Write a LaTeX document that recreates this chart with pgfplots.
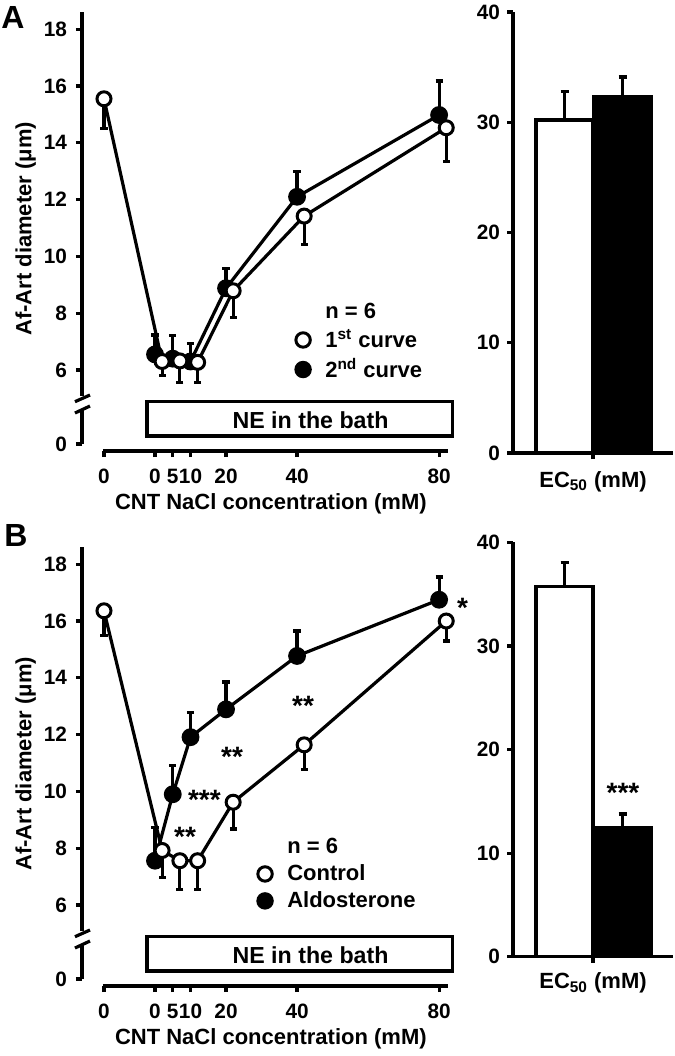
\documentclass[border=0pt]{standalone}
\usepackage{pgfplots}
\usepackage{pgfplotstable}
\pgfplotsset{compat=1.18}
\usepackage{fontspec}
\setmainfont{Liberation Sans}
\newcommand{\figlbl}{\fontsize{11}{13}\selectfont\bfseries}
\newcommand{\figtck}{\fontsize{10.4}{12}\selectfont\bfseries}
\newcommand{\figstar}{\fontsize{14}{16}\selectfont\bfseries}
\newcommand{\figpanel}{\fontsize{16}{18}\selectfont\bfseries}

% Panel A: 2nd curve (filled), 1st curve (open, x offset +2 for display)
\pgfplotstableread{
x y e
0 6.55 0.68
5 6.40 0.81
10 6.30 0.62
20 8.88 0.70
40 12.10 0.90
80 14.98 1.20
}\Afilled
\pgfplotstableread{
x y e
-14.37 15.55 1.05
2 6.30 0.48
7 6.32 0.75
12 6.27 0.70
22 8.79 0.95
42 11.42 1.00
82 14.53 1.20
}\Aopen
% Panel B: Aldosterone (filled), Control (open)
\pgfplotstableread{
x y e
0 7.56 1.18
5 9.90 1.01
10 11.91 0.86
20 12.89 0.96
40 14.77 0.88
80 16.75 0.80
}\Bfilled
\pgfplotstableread{
x y e
-14.37 16.36 0.86
2 7.92 0.95
7 7.56 1.00
12 7.56 1.00
22 9.62 0.94
42 11.64 0.88
82 16.00 0.70
}\Bopen

\pgfplotsset{
  leftax/.style={scale only axis, width=183pt, height=219.5pt,
    xmin=-20.56, xmax=82.5, ymin=3.148, ymax=18.606,
    axis line style={draw=none}, tick pos=left, tick align=outside,
    major tick length=3pt, tick style={line width=1.6pt, black},
    xtick={-14.37,0,5,10,20,40,80}, xticklabels={0,0,5,10,20,40,80},
    ytick={3.394,6,8,10,12,14,16,18}, yticklabels={0,6,8,10,12,14,16,18},
    ticklabel style={font=\figtck}, clip=false,
    xticklabel style={yshift=-2.5pt}, yticklabel style={xshift=-1pt},
    every axis x label/.style={at={(rel axis cs:0.516,-0.121)},anchor=center,font=\figlbl},
    every axis y label/.style={at={(rel axis cs:-0.154,0.506)},rotate=90,anchor=center,font=\figlbl},
    xlabel={CNT NaCl concentration (mM)}, ylabel={Af-Art diameter (μm)},
    legend cell align=left,
  },
  errup/.style={forget plot, only marks, mark=none,
    error bars/.cd, y dir=plus, y explicit, error mark=-,
    error bar style={line width=1.6pt, black},
    error mark options={rotate=90, line width=1.6pt, mark size=1.8pt, black}},
  errdown/.style={forget plot, only marks, mark=none,
    error bars/.cd, y dir=minus, y explicit, error mark=-,
    error bar style={line width=1.6pt, black},
    error mark options={rotate=90, line width=1.6pt, mark size=1.8pt, black}},
  filledser/.style={forget plot, black, line width=1.6pt, mark=*, mark size=3.7pt,
    mark options={fill=black, draw=black, line width=1.5pt}},
  openser/.style={forget plot, black, line width=1.6pt, mark=*, mark size=3.5pt,
    mark options={fill=white, draw=black, line width=1.5pt}},
  barax/.style={scale only axis, width=80pt, xmin=0, xmax=160, ymin=0, ymax=40,
    axis x line*=bottom, axis y line*=left, axis line style={line width=1.6pt},
    tick align=outside, major tick length=3pt, tick style={line width=1.6pt, black},
    xtick={80}, xticklabels={}, ytick={0,10,20,30,40},
    /pgf/number format/assume math mode=true,
    ticklabel style={font=\figtck}, clip=false, ybar, bar width=28.5pt,
    xlabel={EC\textsubscript{50} (mM)},
  },
  barser/.style={draw=black, line width=1.6pt, bar shift=0pt,
    error bars/.cd, y dir=plus, y explicit, error mark=-,
    error bar style={line width=1.6pt, black},
    error mark options={rotate=90, line width=1.6pt, mark size=2pt, black}},
  legcirc/.style={only marks, mark=*, mark size=3.6pt, mark options={fill=#1, draw=black, line width=1.5pt}},
}

\begin{document}
\begin{tikzpicture}
\useasboundingbox (0,0) rectangle (337.5pt,-528pt);

\node[font=\figpanel] at (6.5pt,-8.5pt) {A};
\node[font=\figpanel] at (8pt,-267.5pt) {B};

% ---------- Panel A, left ----------
\begin{axis}[leftax, at={(41pt,-225.5pt)}, anchor=south west,
  legend style={draw=none, fill=none, font=\figlbl, column sep=5.5pt, at={(rel axis cs:0.540,0.356)}, anchor=north west}]
\draw[line width=1.6pt] (axis cs:-20.56,18.606) -- (axis cs:-20.56,5.085);
\draw[line width=1.6pt] (axis cs:-20.56,4.627) -- (axis cs:-20.56,3.394);
\draw[line width=1.6pt] (axis cs:-22.54,4.884) -- (axis cs:-18.31,5.12);
\draw[line width=1.6pt] (axis cs:-22.54,4.486) -- (axis cs:-18.31,4.732);
\draw[line width=1.6pt] (axis cs:-14.65,3.148) -- (axis cs:82.5,3.148);
\draw[line width=1.6pt] (axis cs:-2.25,3.676) rectangle (axis cs:83.7,4.884);
\node[font=\fontsize{11.6}{13}\selectfont\bfseries] at (axis cs:43.8,4.24) {NE in the bath};
\addplot[errup] table[x=x, y=y, y error=e] {\Afilled};
\addplot[filledser] table[x=x, y=y] {\Afilled};
\addplot[errdown] table[x=x, y=y, y error=e] {\Aopen};
\addplot[openser] table[x=x, y=y] {\Aopen};
\addlegendimage{empty legend}\addlegendentry{n = 6}
\addlegendimage{legcirc=white}\addlegendentry{1\textsuperscript{st} curve}
\addlegendimage{legcirc=black}\addlegendentry{2\textsuperscript{nd} curve}
\end{axis}

% ---------- Panel A, right ----------
\begin{axis}[barax, at={(256.5pt,-226.5pt)}, anchor=south west, height=220.5pt,
  every axis x label/.style={at={(rel axis cs:0.5,-0.0658)},anchor=center,font=\figlbl}]
\addplot[fill=white, barser] coordinates {(51.5,30.2) +- (0,2.6)};
\addplot[fill=black, barser] coordinates {(109.5,32.3) +- (0,1.8)};
\end{axis}

% ---------- Panel B, left ----------
\begin{axis}[leftax, at={(41pt,-493pt)}, anchor=south west,
  legend style={draw=none, fill=none, font=\figlbl, column sep=5.5pt, at={(rel axis cs:0.436,0.356)}, anchor=north west}]
\draw[line width=1.6pt] (axis cs:-20.56,18.606) -- (axis cs:-20.56,5.085);
\draw[line width=1.6pt] (axis cs:-20.56,4.627) -- (axis cs:-20.56,3.394);
\draw[line width=1.6pt] (axis cs:-22.54,4.884) -- (axis cs:-18.31,5.12);
\draw[line width=1.6pt] (axis cs:-22.54,4.486) -- (axis cs:-18.31,4.732);
\draw[line width=1.6pt] (axis cs:-14.65,3.148) -- (axis cs:82.5,3.148);
\draw[line width=1.6pt] (axis cs:-2.25,3.676) rectangle (axis cs:83.7,4.884);
\node[font=\fontsize{11.6}{13}\selectfont\bfseries] at (axis cs:43.8,4.24) {NE in the bath};
\addplot[errup] table[x=x, y=y, y error=e] {\Bfilled};
\addplot[filledser] table[x=x, y=y] {\Bfilled};
\addplot[errdown] table[x=x, y=y, y error=e] {\Bopen};
\addplot[openser] table[x=x, y=y] {\Bopen};
\node[font=\figstar] at (axis cs:8.45,8.41) {**};
\node[font=\figstar] at (axis cs:13.9,9.72) {***};
\node[font=\figstar] at (axis cs:21.7,11.21) {**};
\node[font=\figstar] at (axis cs:41.7,13.03) {**};
\node[font=\figstar] at (axis cs:86.6,16.46) {*};
\addlegendimage{empty legend}\addlegendentry{n = 6}
\addlegendimage{legcirc=white}\addlegendentry{Control}
\addlegendimage{legcirc=black}\addlegendentry{Aldosterone}
\end{axis}

% ---------- Panel B, right ----------
\begin{axis}[barax, at={(256.5pt,-478.35pt)}, anchor=south west, height=207.2pt,
  every axis x label/.style={at={(rel axis cs:0.5,-0.0635)},anchor=center,font=\figlbl}]
\addplot[fill=white, barser] coordinates {(51.5,35.7) +- (0,2.37)};
\addplot[fill=black, barser] coordinates {(109.5,12.45) +- (0,1.32)};
\node[font=\figstar] at (axis cs:110,15.8) {***};
\end{axis}
\end{tikzpicture}
\end{document}
